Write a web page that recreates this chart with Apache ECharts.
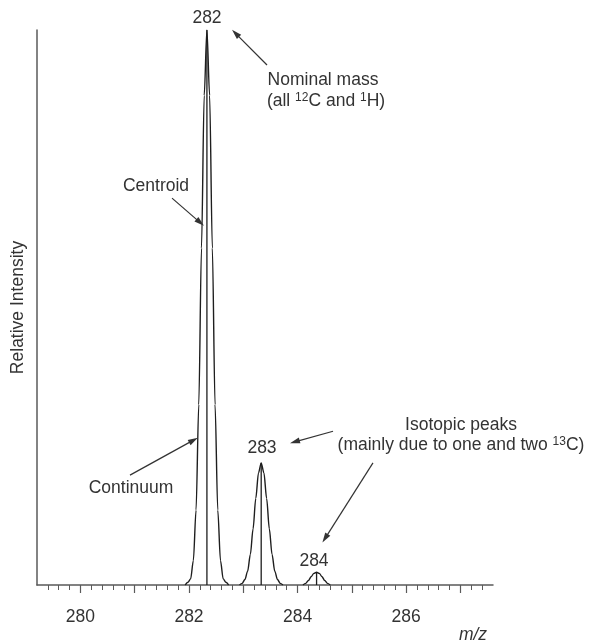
<!DOCTYPE html>
<html>
<head>
<meta charset="utf-8">
<script src="https://cdn.jsdelivr.net/npm/echarts@6/dist/echarts.min.js"></script>
<style>
html,body{margin:0;padding:0;background:#fff;}
#chart{width:592px;height:641px;}
</style>
</head>
<body>
<div id="chart"></div>
<script>
// ---- data ----
var xMin = 279.2;
var xMax = 287.6;
var yMax = 100;

// continuum profile, peak at m/z 282
var peak282Mz  = [281.93, 281.98, 282.03, 282.08, 282.13, 282.18, 282.23, 282.28, 282.33, 282.38, 282.43, 282.48, 282.53, 282.58, 282.63, 282.68, 282.73];
var peak282Int = [0, 0.5, 1.1, 4.4, 13.5, 32.5, 60.7, 88.2, 100, 88.2, 60.7, 32.5, 13.5, 4.4, 1.1, 0.5, 0];

// continuum profile, peak at m/z 283
var peak283Mz  = [282.93, 282.98, 283.03, 283.08, 283.13, 283.18, 283.23, 283.28, 283.33, 283.38, 283.43, 283.48, 283.53, 283.58, 283.63, 283.68, 283.73];
var peak283Int = [0, 0.3, 1.0, 2.5, 5.5, 10.1, 15.6, 20.2, 22, 20.2, 15.6, 10.1, 5.5, 2.5, 1.0, 0.3, 0];

// continuum profile, peak at m/z 284
var peak284Mz  = [284.10, 284.15, 284.20, 284.25, 284.30, 284.35, 284.40, 284.45, 284.50, 284.55, 284.60];
var peak284Int = [0, 0.3, 0.8, 1.5, 2.1, 2.3, 2.1, 1.5, 0.8, 0.3, 0];

// centroid sticks
var centroidMz  = [282.33, 283.33, 284.35];
var centroidInt = [100, 22, 2.3];

// axis ticks
var tickLabels = [280, 282, 284, 286];
var majorTicks = [280, 281, 282, 283, 284, 285, 286, 287];
var minorTicks = [279.4, 279.6, 279.8, 280, 280.2, 280.4, 280.6, 280.8, 281, 281.2, 281.4, 281.6, 281.8, 282, 282.2, 282.4, 282.6, 282.8, 283, 283.2, 283.4, 283.6, 283.8, 284, 284.2, 284.4, 284.6, 284.8, 285, 285.2, 285.4, 285.6, 285.8, 286, 286.2, 286.4, 286.6, 286.8, 287, 287.2, 287.4];

// annotation arrows (tail -> head) in data units
var arrowTails = [[283.437, 93.7], [281.687, 69.7], [280.913, 19.8], [284.653, 27.7], [285.389, 22.0]];
var arrowHeads = [[282.857, 99.4], [282.206, 65.3], [282.083, 26.1], [283.949, 25.8], [284.507, 8.4]];

// ---- chart ----
var FONT = 'Liberation Sans, Arial, Helvetica, sans-serif';
var FS = 17.5;
var TXT = '#333';
var LINE = '#1e1e1e';
var AXIS = '#5a5a5a';

function zip(a, b) { return a.map(function (v, i) { return [v, b[i]]; }); }

var series = [];
[[peak282Mz, peak282Int], [peak283Mz, peak283Int], [peak284Mz, peak284Int]].forEach(function (p) {
  series.push({
    type: 'line', data: zip(p[0], p[1]), showSymbol: false, symbol: 'none',
    smooth: 0.3, smoothMonotone: 'x',
    lineStyle: { color: LINE, width: 1.4 }, silent: true, z: 3
  });
});
centroidMz.forEach(function (m, i) {
  series.push({
    type: 'line', data: [[m, 0], [m, centroidInt[i]]], showSymbol: false, symbol: 'none',
    lineStyle: { color: LINE, width: 1.3 }, silent: true, z: 3
  });
});
series[0].markLine = {
  silent: true,
  symbol: ['none', 'triangle'],
  symbolSize: [6, 10],
  label: { show: false },
  lineStyle: { color: '#333', width: 1.2, type: 'solid' },
  emphasis: { disabled: true },
  data: arrowTails.map(function (t, i) { return [{ coord: t }, { coord: arrowHeads[i] }]; })
};

var RICH = { sup: { fontSize: 12, fontFamily: FONT, fill: TXT, verticalAlign: 'top' } };

function txt(x, y, s, extra) {
  return {
    type: 'text', x: x, y: y, silent: true,
    style: Object.assign({ text: s, fill: TXT, font: FS + 'px ' + FONT, fontSize: FS, fontFamily: FONT, align: 'center', verticalAlign: 'middle', rich: RICH }, extra || {})
  };
}

var option = {
  animation: false,
  backgroundColor: '#fff',
  grid: { left: 37, top: 30, width: 456, height: 555, containLabel: false },
  xAxis: [{
    type: 'value', min: xMin, max: xMax,
    axisLine: { lineStyle: { color: AXIS, width: 1.5 } },
    axisTick: { show: true, customValues: minorTicks, length: 5, lineStyle: { color: AXIS, width: 1 } },
    axisLabel: { customValues: tickLabels, margin: 23, fontSize: FS, color: TXT, fontFamily: FONT },
    splitLine: { show: false }
  }, {
    type: 'value', min: xMin, max: xMax, position: 'bottom',
    axisLine: { show: false },
    axisTick: { show: true, customValues: majorTicks, length: 8, lineStyle: { color: AXIS, width: 1.2 } },
    axisLabel: { show: false },
    splitLine: { show: false }
  }],
  yAxis: {
    type: 'value', min: 0, max: yMax,
    axisLine: { show: true, lineStyle: { color: AXIS, width: 1.5 } },
    axisTick: { show: false }, axisLabel: { show: false }, splitLine: { show: false },
    name: 'Relative Intensity', nameLocation: 'middle', nameGap: 10,
    nameTextStyle: { fontSize: FS, color: TXT, fontFamily: FONT }
  },
  series: series,
  graphic: [
    txt(207, 18, '282'),
    txt(323, 80, 'Nominal mass'),
    txt(326, 101, '(all {sup|12}C and {sup|1}H)'),
    txt(156, 186, 'Centroid'),
    txt(131, 488, 'Continuum'),
    txt(262, 448, '283'),
    txt(461, 425, 'Isotopic peaks'),
    txt(461, 445, '(mainly due to one and two {sup|13}C)'),
    txt(314, 561, '284'),
    txt(473, 635, 'm/z', { font: 'italic ' + FS + 'px ' + FONT, fontStyle: 'italic' })
  ]
};

var chart = echarts.init(document.getElementById('chart'), null, { renderer: 'canvas' });
chart.setOption(option);
</script>
</body>
</html>
